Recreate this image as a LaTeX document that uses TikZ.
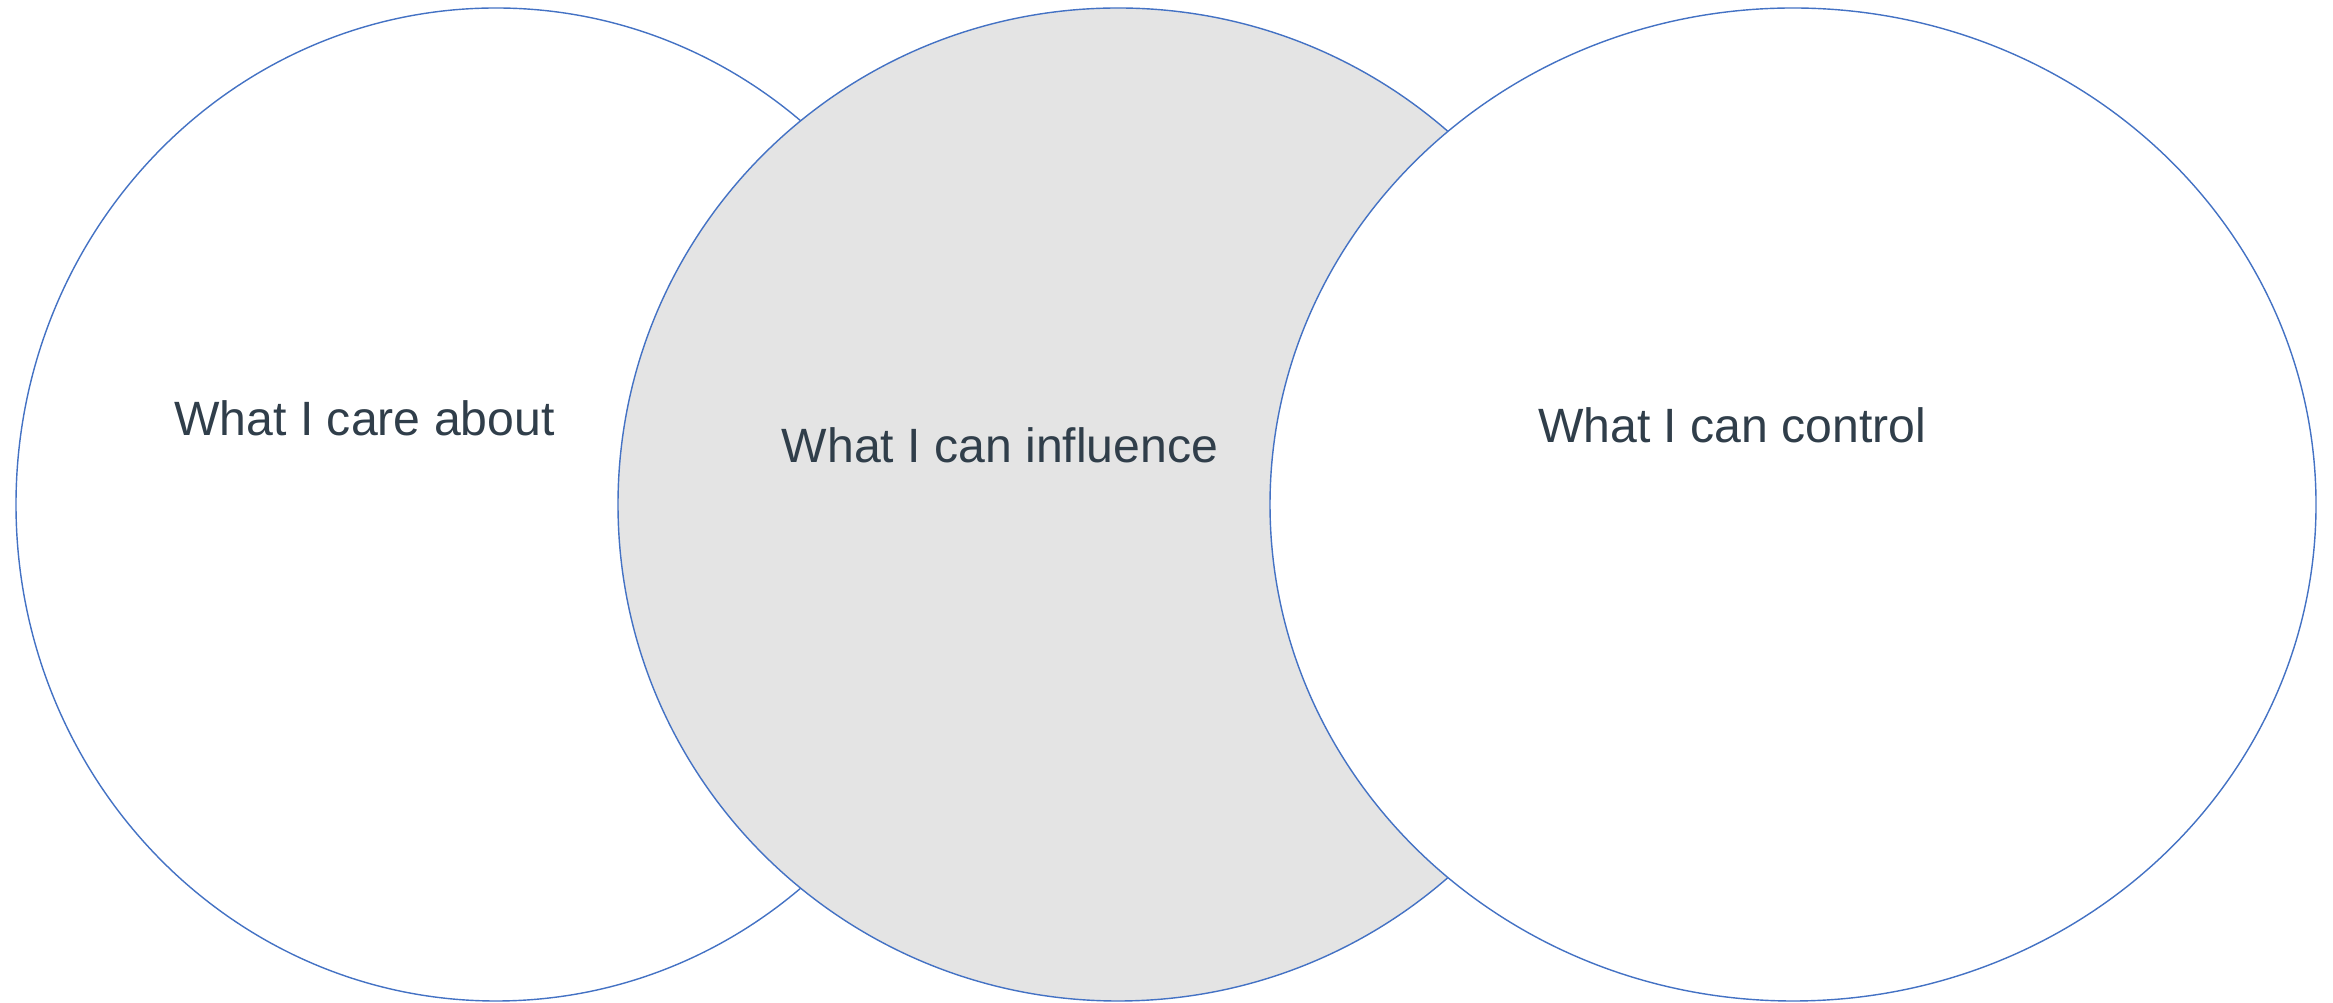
\documentclass[tikz,border=0pt]{standalone}
\usepackage{xcolor}
\usepackage{fontspec}
\setmainfont{Liberation Sans}
\usepackage{tikz}
\usetikzlibrary{shapes.geometric, positioning}
\definecolor{rimblue}{HTML}{4472C4}
\definecolor{zonegray}{HTML}{E4E4E4}
\definecolor{labelink}{HTML}{303E4A}
\tikzset{
  zone/.style={ellipse, draw=rimblue, line width=0.4pt, fill=white,
               inner sep=0pt, minimum height=9.93cm},
  zoneG/.style={zone, fill=zonegray},
  label/.style={anchor=base, text=labelink, inner sep=0pt,
                font=\fontsize{13.7}{16}\selectfont},
}
\begin{document}
\begin{tikzpicture}
  \useasboundingbox (0,0) rectangle (23.33,-10.03);

  % Circles (back to front)
  \node[zone,  minimum width=9.60cm]  (care)      at (4.96, -5.045)  {};
  \node[zoneG, minimum width=10.00cm] (influence) at (11.18,-5.045)  {};
  \node[zone,  minimum width=10.46cm] (control)   at (17.93,-5.045)  {};

  % Labels
  \node[label] (careL)      at (3.645,-4.36)  {What I care about};
  \node[label] (influenceL) at (10.00,-4.627) {What I can influence};
  \node[label] (controlL)   at (17.32,-4.43)  {What I can control};

\end{tikzpicture}
\end{document}
